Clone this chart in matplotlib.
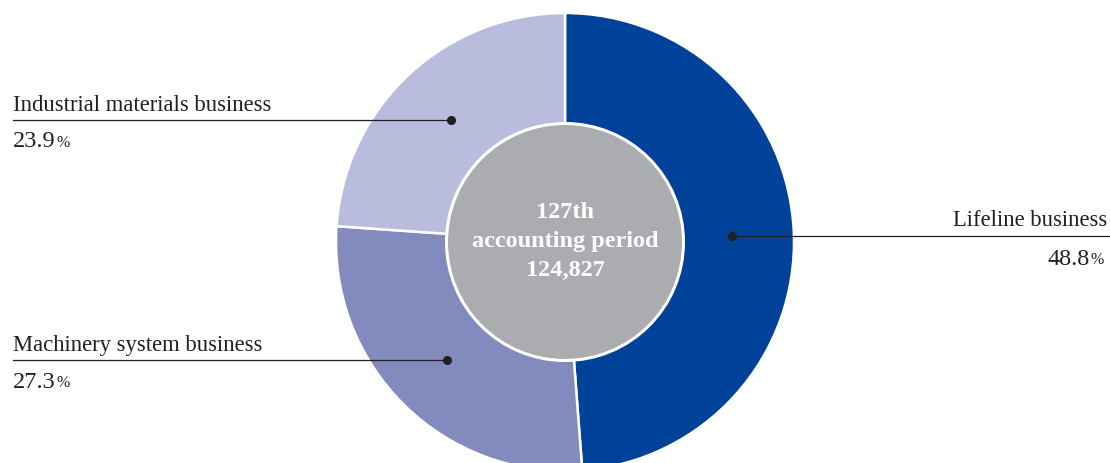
import numpy as np
import matplotlib.pyplot as plt

# Sales composition, 127th accounting period
segments = ['Lifeline business', 'Machinery system business', 'Industrial materials business']
shares = [48.8, 27.3, 23.9]
colors = ['#00419a', '#828abe', '#b9bcdc']
period = '127th'
total = '124,827'

W, H = 1110, 463
fig = plt.figure(figsize=(W / 100, H / 100), dpi=100)
ax = fig.add_axes([0, 0, 1, 1])

# donut geometry in pixel units (y measured from bottom)
cx, cy = 565, H - 242
R, r_in = 229, 118.5

wedges, _ = ax.pie(shares, colors=colors, startangle=90, counterclock=False,
                   center=(cx, cy), radius=R,
                   wedgeprops=dict(edgecolor='white', linewidth=1.8))
ax.add_patch(plt.Circle((cx, cy), r_in, facecolor='#abacaf',
                        edgecolor='white', linewidth=2.2, zorder=5))

ax.set_xlim(0, W)
ax.set_ylim(0, H)
ax.set_aspect('auto')
ax.axis('off')

serif = ['Liberation Serif', 'DejaVu Serif']
ink = '#231f20'
lab_size = 16.3

ax.text(cx, cy + 1, period + '\naccounting period\n' + total, ha='center',
        va='center', color='white', fontsize=17.5, fontweight='bold',
        family=serif, linespacing=1.5, zorder=6)


def pct_label(x, y, value, side):
    """Number with a smaller % sign, baseline at y."""
    if side == 'left':
        t = ax.text(x, y, f'{value:.1f}', ha='left', va='baseline',
                    fontsize=17.5, color=ink, family=serif)
        ax.annotate('%', xy=(1, 0), xycoords=t, xytext=(0.5, 1.2),
                    textcoords='offset points', ha='left', va='bottom',
                    fontsize=11.5, color=ink, family=serif)
    else:
        p = ax.text(x, y, '%', ha='right', va='baseline',
                    fontsize=11.5, color=ink, family=serif)
        ax.annotate(f'{value:.1f}', xy=(0, 0), xycoords=p, xytext=(-0.5, -1.2),
                    textcoords='offset points', ha='right', va='bottom',
                    fontsize=17.5, color=ink, family=serif)


r_dot = 167
for w, name, val in zip(wedges, segments, shares):
    mid = np.deg2rad((w.theta1 + w.theta2) / 2)
    dx, dy = cx + r_dot * np.cos(mid), cy + r_dot * np.sin(mid)
    ax.plot(dx, dy, 'o', color=ink, markersize=5.5, zorder=7)
    if np.cos(mid) > 0:
        ax.plot([dx, 1109], [dy, dy], color=ink, linewidth=0.9, zorder=7)
        ax.text(1107, dy + 10, name, ha='right', va='baseline',
                fontsize=lab_size, color=ink, family=serif)
        pct_label(1104, dy - 28.5, val, 'right')
    else:
        ax.plot([13, dx], [dy, dy], color=ink, linewidth=0.9, zorder=7)
        ax.text(13, dy + 9, name, ha='left', va='baseline',
                fontsize=lab_size, color=ink, family=serif)
        pct_label(13, dy - 27.5, val, 'left')

fig.savefig('out.png', dpi=100)
